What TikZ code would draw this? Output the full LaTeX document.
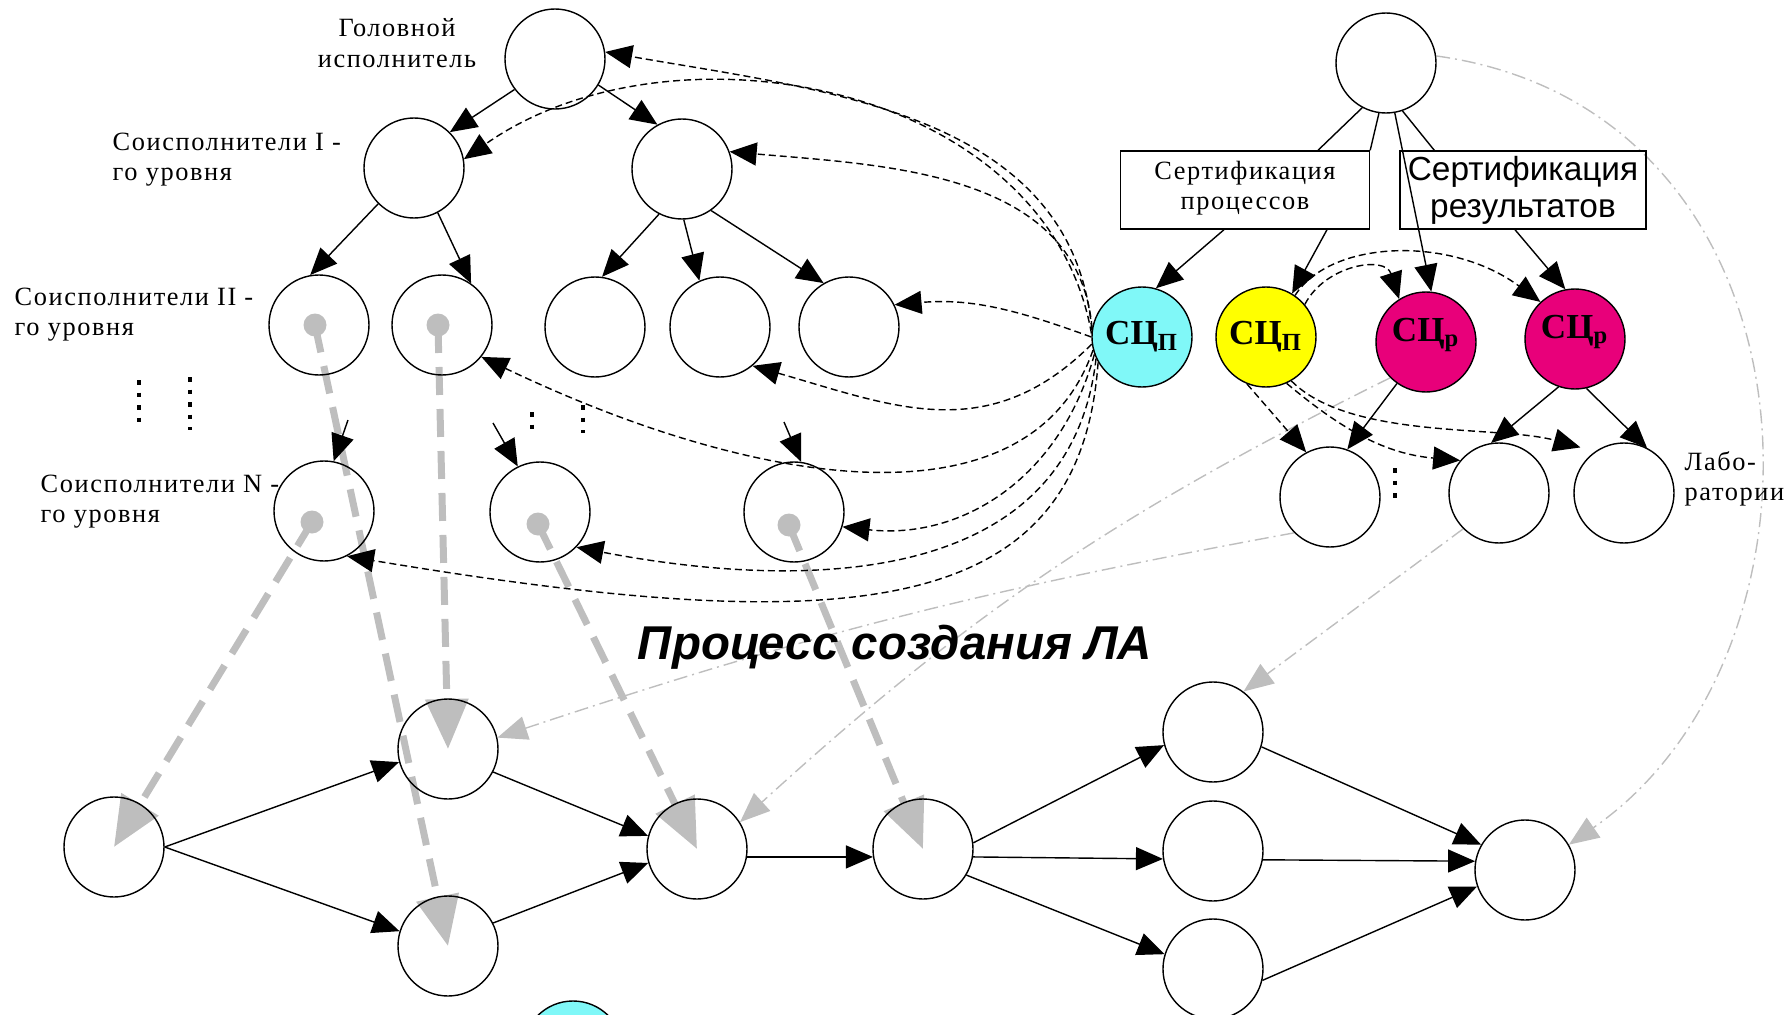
\documentclass[tikz,border=0pt]{standalone}
\usepackage{fontspec}
\setmainfont{Liberation Serif}
\newfontfamily\lblfont[LetterSpace=6]{Liberation Serif}
\newfontfamily\arialfont{Liberation Sans}
\usepackage{tikz}
\usetikzlibrary{arrows.meta,backgrounds,calc}
\definecolor{scpcyan}{RGB}{128,248,248}
\definecolor{scpyellow}{RGB}{255,255,0}
\definecolor{scrpink}{RGB}{232,0,122}
\definecolor{lightgr}{RGB}{190,190,190}

\begin{document}
\begin{tikzpicture}[x=0.1mm,y=0.1mm,
  vertex/.style={circle,draw,thin,minimum size=10mm,inner sep=0pt},
  knob/.style={circle,fill=lightgr,minimum size=2.3mm,inner sep=0pt},
  certbox/.style={rectangle,draw,thin,minimum height=7.8mm,inner sep=0pt},
  lbl/.style={font=\lblfont\fontsize{7.5}{8.6}\selectfont,align=left,inner sep=0pt},
  scc/.style={vertex,font=\bfseries\fontsize{10}{12}\selectfont},
  bighead/.style={-{Triangle[length=2.7mm,width=2.3mm]}},
  solidarr/.style={thin,bighead},
  dasharr/.style={thin,dash pattern=on 0.7mm off 0.4mm,bighead},
  grayarr/.style={draw=lightgr,line width=0.7mm,dash pattern=on 2.8mm off 1.4mm,-{Triangle[length=5mm,width=4.2mm]}},
  ghostarr/.style={draw=lightgr,thin,dash pattern=on 1.4mm off 0.5mm on 0.2mm off 0.5mm,-{Triangle[length=3mm,width=2.4mm]}},
  vdots/.style={line width=0.45mm,dash pattern=on 0.45mm off 0.8mm}]
\useasboundingbox (0,0) rectangle (1787,-1015);
\clip (0,0) rectangle (1787,-1015);

\node[vertex] (head) at (555,-59) {};
\node[lbl,align=center] (headlbl) at (397,-43) {Головной\\исполнитель};
\node[vertex] (lvlIa) at (414,-168) {};
\node[vertex] (lvlIb) at (682,-169) {};
\node[lbl,anchor=west] (lblI) at (112,-160) {Соисполнители I -\\го уровня};
\node[vertex] (lvlIIa) at (319,-325) {};
\node[vertex] (lvlIIb) at (442,-325) {};
\node[vertex] (lvlIIc) at (595,-327) {};
\node[vertex] (lvlIId) at (720,-327) {};
\node[vertex] (lvlIIe) at (849,-327) {};
\node[lbl,anchor=west] (lblII) at (14,-315) {Соисполнители II -\\го уровня};
\node[vertex] (lvlNa) at (324,-511) {};
\node[vertex] (lvlNb) at (540,-512) {};
\node[vertex] (lvlNc) at (794,-512) {};
\node[lbl,anchor=west] (lblN) at (40,-502) {Соисполнители N -\\го уровня};
\node[knob] (kIIa) at (315,-325) {};
\node[knob] (kIIb) at (438,-325) {};
\node[knob] (kNa) at (312,-522) {};
\node[knob] (kNb) at (538,-524) {};
\node[knob] (kNc) at (789,-525) {};
\coordinate (stubNa) at (348,-420);
\coordinate (stubNb) at (493,-423);
\coordinate (stubNc) at (784,-422);

\node[vertex] (cert) at (1386,-63) {};
\node[certbox,lbl,minimum width=24.9mm,align=center] (boxproc) at (1245,-190) {Сертификация\\процессов\rule[-1mm]{0pt}{1mm}};
\node[certbox,minimum width=24.6mm,align=center,font=\arialfont\fontsize{9.5}{10.5}\selectfont] (boxres) at (1523,-190) {Сертификация\\результатов};
\node[scc,fill=scpcyan] (scpa) at (1142,-337) {СЦ\textsubscript{П}};
\node[scc,fill=scpyellow] (scpb) at (1266,-337) {СЦ\textsubscript{П}};
\node[scc,fill=scrpink] (scra) at (1426,-342) {СЦ\textsubscript{р}\rule[-2.4mm]{0pt}{2.4mm}};
\node[scc,fill=scrpink] (scrb) at (1575,-339) {СЦ\textsubscript{р}\rule[-2.4mm]{0pt}{2.4mm}};
\node[vertex] (laba) at (1330,-497) {};
\node[vertex] (labb) at (1499,-493) {};
\node[vertex] (labc) at (1624,-493) {};
\node[lbl,anchor=west] (lbllab) at (1684,-479) {Лабо-\\ратории};

\node[vertex] (proca) at (114,-847) {};
\node[vertex] (procb) at (448,-749) {};
\node[vertex] (procc) at (448,-946) {};
\node[vertex] (procd) at (697,-849) {};
\node[vertex] (proce) at (923,-849) {};
\node[vertex] (procf) at (1213,-732) {};
\node[vertex] (procg) at (1213,-851) {};
\node[vertex] (proch) at (1213,-969) {};
\node[vertex] (proci) at (1525,-870) {};
\node[vertex,fill=scpcyan] (scpc) at (573,-1051) {};
\node[font=\arialfont\bfseries\itshape\fontsize{13.5}{16}\selectfont] (title) at (895,-647) {Процесс создания ЛА};

\draw[vdots] (139,-380) -- (139,-424);
\draw[vdots] (190,-377) -- (190,-430);
\draw[vdots] (532,-412) -- (532,-430);
\draw[vdots] (583,-405) -- (583,-433);
\draw[vdots] (1395,-468) -- (1395,-500);

\begin{scope}[on background layer]
\draw[grayarr] (kIIa.center) -- (procc.center);
\draw[grayarr] (kIIb.center) -- (procb.center);
\draw[grayarr] (kNa.center) -- (proca.center);
\draw[grayarr] (kNb.center) -- (procd.center);
\draw[grayarr] (kNc.center) -- (proce.center);
\draw[ghostarr] (laba.225) to[bend right=4] (procb.13);
\draw[ghostarr] (scra.225) to[bend right=8] (procd.32);
\draw[ghostarr] (labb.225) -- (procf.53);
\draw[ghostarr] (cert.8) .. controls (1830,-110) and (1850,-650) .. (proci.30);
\end{scope}

\draw[solidarr] (head.217) -- (lvlIa.45);
\draw[solidarr] (head.329) -- (lvlIb.119);
\draw[solidarr] (lvlIa.225) -- (lvlIIa.100);
\draw[solidarr] (lvlIa.298) -- (lvlIIb.55);
\draw[solidarr] (lvlIb.243) -- (lvlIIc.82);
\draw[solidarr] (lvlIb.272) -- (lvlIId.114);
\draw[solidarr] (lvlIb.305) -- (lvlIIe.120);
\draw[solidarr] (stubNa) -- (lvlNa.79);
\draw[solidarr] (stubNb) -- (lvlNb.116);
\draw[solidarr] (stubNc) -- (lvlNc.82);

\draw[dasharr] (scpa.172) to[out=95,in=-10] (head.8);
\draw[dasharr] (scpa.176) to[out=100,in=35] (lvlIa.10);
\draw[dasharr] (scpa.170) to[out=95,in=-5] (lvlIb.20);
\draw[dasharr] (scpa.180) to[out=160,in=5] (lvlIIe.26);
\draw[dasharr] (scpa.188) to[out=225,in=-16,looseness=1.1] (lvlIId.-50);
\draw[dasharr] (scpa.195) .. controls (1030,-530) and (760,-490) .. (lvlIIb.-39);
\draw[dasharr] (scpa.200) .. controls (1060,-480) and (960,-540) .. (lvlNc.-17);
\draw[dasharr] (scpa.205) .. controls (1070,-590) and (800,-590) .. (lvlNb.-44);
\draw[dasharr] (scpa.210) .. controls (1080,-620) and (850,-640) .. (lvlNa.-63);

\draw[thin] (cert.242) -- ([xshift=7.3mm]boxproc.north);
\draw[thin] (cert.262) -- (boxproc.north east);
\draw[thin] (cert.289) -- ([xshift=3.5mm]boxres.north west);
\draw[solidarr] (cert.280) -- (scra.84);
\draw[solidarr] ([xshift=-2.1mm]boxproc.south) -- (scpa.74);
\draw[solidarr] ([xshift=8.2mm]boxproc.south) -- (scpb.59);
\draw[solidarr] ([xshift=-0.8mm]boxres.south) -- (scrb.101);
\draw[solidarr] (scra.235) -- (laba.70);
\draw[solidarr] (scrb.251) -- (labb.99);
\draw[solidarr] (scrb.283) -- (labc.63);

\draw[dasharr] (scpb.40) .. controls (1325,-265) and (1385,-255) .. (scra.122);
\draw[dasharr] (scpb.55) .. controls (1330,-240) and (1450,-235) .. (scrb.133);
\draw[dasharr] (scpb.248) -- (laba.118);
\draw[dasharr] (scpb.294) to[out=-40,in=175] (labb.140);
\draw[dasharr,shorten >=1.5mm] (scpb.300) .. controls (1350,-440) and (1500,-425) .. (labc.125);

\draw[solidarr] (proca.east) -- (procb.195);
\draw[solidarr] (proca.east) -- (procc.163);
\draw[solidarr] (procb.-27) -- (procd.165);
\draw[solidarr] (procc.27) -- (procd.196);
\draw[solidarr] (procd.-9) -- (proce.189);
\draw[solidarr] (proce.7) -- (procf.195);
\draw[solidarr] (proce.-9) -- (procg.189);
\draw[solidarr] (proce.-31) -- (proch.163);
\draw[solidarr] (procf.-17) -- (proci.150);
\draw[solidarr] (procg.-10) -- (proci.170);
\draw[solidarr] (proch.-13) -- (proci.199);
\end{tikzpicture}
\end{document}
